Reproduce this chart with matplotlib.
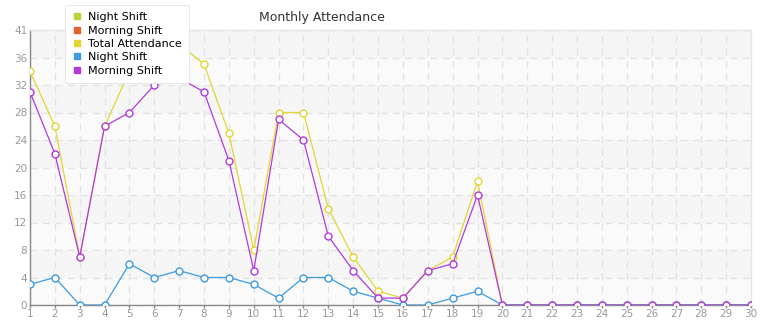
import numpy as np
import matplotlib.pyplot as plt
from matplotlib.lines import Line2D

# Datos
dias = list(range(1, 31))
total = [34, 26, 7, 26, 34, 36, 38, 35, 25, 8, 28, 28, 14, 7, 2, 1, 5, 7, 18, 0,
         0, 0, 0, 0, 0, 0, 0, 0, 0, 0]
noche = [3, 4, 0, 0, 6, 4, 5, 4, 4, 3, 1, 4, 4, 2, 1, 0, 0, 1, 2, 0,
         0, 0, 0, 0, 0, 0, 0, 0, 0, 0]
manana = [31, 22, 7, 26, 28, 32, 33, 31, 21, 5, 27, 24, 10, 5, 1, 1, 5, 6, 16, 0,
          0, 0, 0, 0, 0, 0, 0, 0, 0, 0]

y_ticks = [0, 4, 8, 12, 16, 20, 24, 28, 32, 36, 40]
y_labels = ['0', '4', '8', '12', '16', '20', '24', '28', '32', '36', '41']

c_noche1 = '#b5d631'
c_manana1 = '#e0622d'
c_total = '#e2d533'
c_noche = '#3d9be0'
c_manana = '#b239de'

plt.rcParams['hatch.linewidth'] = 0.5

fig = plt.figure(figsize=(7.65, 3.2), dpi=100)
ax = fig.add_axes([30 / 765, 1 - 305 / 320, 721 / 765, 275 / 320])
ax.set_facecolor('#f9f9f9')

# Bandas alternadas con rayado fino
for i in range(0, 40, 4):
    if (i // 4) % 2 == 1:
        ax.axhspan(i, i + 4, facecolor='#f8f8f8', hatch='////////', edgecolor='#efefef', lw=0, zorder=0)
    else:
        ax.axhspan(i, i + 4, facecolor='#fafafa', lw=0, zorder=0)

ax.set_xlim(1, 30)
ax.set_ylim(0, 40)

ax.grid(True, color='#e2e2e2', linestyle=(0, (5, 4)), lw=1, zorder=1)
ax.set_axisbelow(True)

mk = dict(marker='o', markersize=5, markerfacecolor='white', markeredgewidth=1, lw=0.9, zorder=3)
ax.plot(dias, total, color=c_total, markeredgecolor=c_total, **mk)
ax.plot(dias, noche, color=c_noche, markeredgecolor=c_noche, **mk)
ax.plot(dias, manana, color=c_manana, markeredgecolor=c_manana, **mk)

ax.set_xticks(dias)
ax.set_yticks(y_ticks)
ax.set_yticklabels(y_labels)
ax.tick_params(axis='both', colors='#888888', labelcolor='#999999', labelsize=7.5, width=1)
ax.tick_params(axis='x', pad=1, length=2)
ax.tick_params(axis='y', pad=2, length=0)

for s in ['left', 'bottom']:
    ax.spines[s].set_color('#888888')
    ax.spines[s].set_linewidth(1)
for s in ['top', 'right']:
    ax.spines[s].set_color('#e6e6e6')
    ax.spines[s].set_linewidth(1)

fig.text(322 / 765, 1 - 17 / 320, 'Monthly Attendance', ha='center', va='center',
         fontsize=9, color='#333333')

handles = [
    Line2D([], [], lw=0, marker='s', markersize=4.5, color=c_noche1),
    Line2D([], [], lw=0, marker='s', markersize=4.5, color=c_manana1),
    Line2D([], [], lw=0, marker='s', markersize=4.5, color=c_total),
    Line2D([], [], lw=0, marker='s', markersize=4.5, color=c_noche),
    Line2D([], [], lw=0, marker='s', markersize=4.5, color=c_manana),
]
labels = ['Night Shift', 'Morning Shift', 'Total Attendance', 'Night Shift', 'Morning Shift']
leg = fig.legend(handles, labels, loc='upper left', bbox_to_anchor=(65 / 765, 1 - 5 / 320),
                 fontsize=8, frameon=True, fancybox=True, framealpha=1, edgecolor='#e8e8e8',
                 handlelength=0.8, handletextpad=0.6, labelspacing=0.3, borderpad=0.65,
                 borderaxespad=0)
leg.get_frame().set_linewidth(0.8)
leg.set_zorder(10)

fig.savefig('out.png', dpi=100)
